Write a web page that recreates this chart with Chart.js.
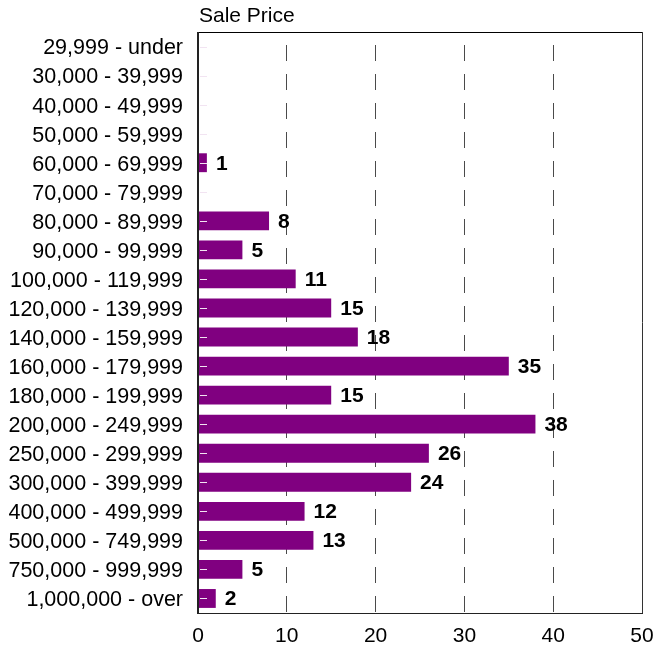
<!DOCTYPE html>
<html>
<head>
<meta charset="utf-8">
<script src="https://cdn.jsdelivr.net/npm/chart.js@4"></script>
<style>
  html, body { margin: 0; padding: 0; background: #ffffff; }
  #wrap { width: 656px; height: 646px; }
</style>
</head>
<body>
<div id="wrap"><canvas id="c" width="656" height="646"></canvas></div>
<script>
const categories = [
  "29,999 - under", "30,000 - 39,999", "40,000 - 49,999", "50,000 - 59,999",
  "60,000 - 69,999", "70,000 - 79,999", "80,000 - 89,999", "90,000 - 99,999",
  "100,000 - 119,999", "120,000 - 139,999", "140,000 - 159,999", "160,000 - 179,999",
  "180,000 - 199,999", "200,000 - 249,999", "250,000 - 299,999", "300,000 - 399,999",
  "400,000 - 499,999", "500,000 - 749,999", "750,000 - 999,999", "1,000,000 - over"
];
const salesCount = [0, 0, 0, 0, 1, 0, 8, 5, 11, 15, 18, 35, 15, 38, 26, 24, 12, 13, 5, 2];
const xTicks = [0, 10, 20, 30, 40, 50];
const chartTitle = "Sale Price";

const FONT = "'Liberation Sans', Arial, sans-serif";

const framePlugin = {
  id: 'frame',
  afterDatasetsDraw(chart) {
    const ctx = chart.ctx;
    const a = chart.chartArea;
    const yScale = chart.scales.y;
    ctx.save();
    // small inward tick marks at category centres
    ctx.strokeStyle = '#f2e4f2';
    ctx.lineWidth = 1;
    for (let i = 0; i < categories.length; i++) {
      const y = Math.round(yScale.getPixelForValue(i)) + 0.5;
      ctx.beginPath();
      ctx.moveTo(a.left + 2, y);
      ctx.lineTo(a.left + 9, y);
      ctx.stroke();
    }
    // frame
    ctx.strokeStyle = '#000000';
    ctx.lineWidth = 1;
    ctx.beginPath();
    ctx.moveTo(a.left, a.top + 0.5);
    ctx.lineTo(a.right, a.top + 0.5);
    ctx.stroke();
    ctx.strokeStyle = '#333333';
    ctx.beginPath();
    ctx.moveTo(a.right + 0.5, a.top);
    ctx.lineTo(a.right + 0.5, a.bottom);
    ctx.stroke();
    ctx.strokeStyle = '#222222';
    ctx.beginPath();
    ctx.moveTo(a.left, a.bottom + 0.5);
    ctx.lineTo(a.right + 1, a.bottom + 0.5);
    ctx.stroke();
    ctx.lineWidth = 2;
    ctx.beginPath();
    ctx.moveTo(a.left, a.top);
    ctx.lineTo(a.left, a.bottom + 1);
    ctx.stroke();

    // value labels
    const meta = chart.getDatasetMeta(0);
    ctx.fillStyle = '#000000';
    ctx.font = "bold 21px " + FONT;
    ctx.textAlign = 'left';
    ctx.textBaseline = 'middle';
    meta.data.forEach((bar, i) => {
      const v = salesCount[i];
      if (!v) return;
      ctx.fillText(String(v), bar.x + 9, bar.y + 1);
    });

    // title
    ctx.font = "21px " + FONT;
    ctx.textBaseline = 'alphabetic';
    ctx.fillText(chartTitle, a.left + 1, 22);
    ctx.restore();
  }
};

new Chart(document.getElementById('c'), {
  type: 'bar',
  data: {
    labels: categories,
    datasets: [{
      data: salesCount,
      backgroundColor: '#800080',
      borderWidth: 0,
      categoryPercentage: 1.0,
      barPercentage: 0.65
    }]
  },
  options: {
    indexAxis: 'y',
    responsive: false,
    animation: false,
    devicePixelRatio: 1,
    layout: { padding: { left: 0, right: 14, top: 32, bottom: 0 } },
    plugins: {
      legend: { display: false },
      tooltip: { enabled: false },
      title: { display: false }
    },
    scales: {
      x: {
        type: 'linear',
        min: 0,
        max: 50,
        afterBuildTicks(scale) { scale.ticks = xTicks.map(v => ({ value: v })); },
        afterFit(scale) { scale.height = 33; scale.paddingLeft = 0; scale.paddingRight = 0; },
        grid: {
          drawTicks: false,
          color: (ctx) => (ctx.tick && (ctx.tick.value === 0 || ctx.tick.value === 50)) ? 'rgba(0,0,0,0)' : '#4a4a4a',
          lineWidth: 1
        },
        border: { display: false, dash: [16, 13], dashOffset: 16 },
        ticks: {
          color: '#000000',
          font: { family: FONT, size: 21 },
          padding: 11,
          maxRotation: 0,
          autoSkip: false
        }
      },
      y: {
        afterFit(scale) { scale.width = 198; scale.paddingTop = 0; scale.paddingBottom = 0; },
        grid: { display: false, drawTicks: false },
        border: { display: false },
        ticks: {
          color: '#000000',
          font: { family: FONT, size: 21.5 },
          padding: 15,
          labelOffset: 2,
          autoSkip: false
        }
      }
    }
  },
  plugins: [framePlugin]
});
</script>
</body>
</html>
